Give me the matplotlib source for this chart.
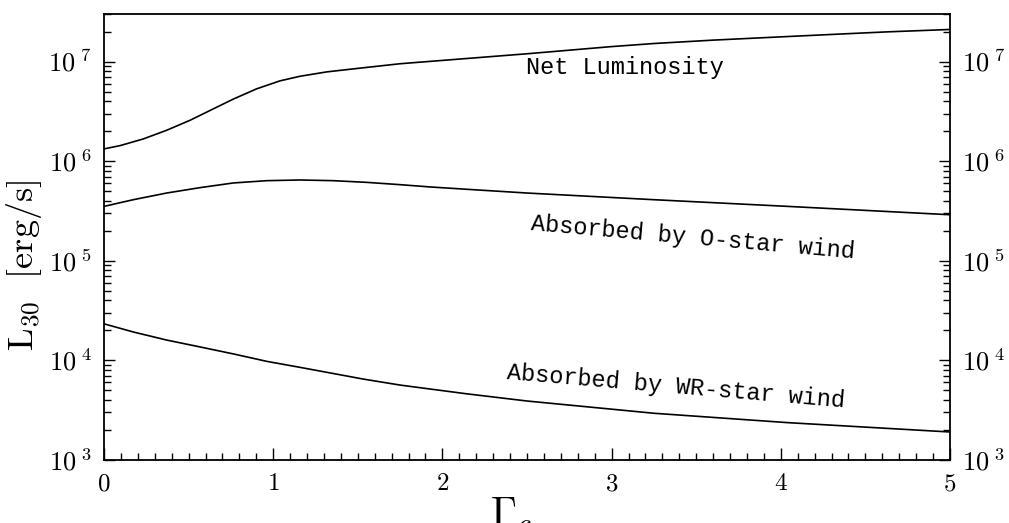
import numpy as np
import matplotlib.pyplot as plt
from matplotlib.ticker import LogLocator, FixedLocator, MultipleLocator, FuncFormatter, NullFormatter

# values (log10 of L30)
gamma_net = [0.0, 0.095, 0.232, 0.37, 0.508, 0.646, 0.764, 0.902, 1.04, 1.158, 1.316, 1.493,
             1.75, 2.14, 2.5, 3.0, 3.25, 3.6, 4.04, 4.4, 4.63, 5.0]
log_net = [6.123, 6.156, 6.223, 6.310, 6.410, 6.525, 6.623, 6.726, 6.806, 6.852, 6.896, 6.930,
           6.978, 7.030, 7.078, 7.150, 7.181, 7.215, 7.251, 7.280, 7.298, 7.322]

gamma_o = [0.0, 0.173, 0.37, 0.567, 0.764, 0.962, 1.158, 1.355, 1.553, 1.749, 1.927,
           2.14, 2.5, 3.25, 4.04, 5.0]
log_o = [5.546, 5.613, 5.680, 5.734, 5.781, 5.804, 5.811, 5.804, 5.787, 5.764, 5.741,
         5.718, 5.68, 5.613, 5.546, 5.462]

gamma_wr = [0.0, 0.173, 0.37, 0.567, 0.764, 0.962, 1.158, 1.355, 1.533, 1.75, 2.14, 2.5,
            3.25, 4.04, 5.0]
log_wr = [4.367, 4.285, 4.204, 4.135, 4.065, 3.990, 3.930, 3.868, 3.812, 3.752, 3.665, 3.592,
          3.469, 3.375, 3.281]

labels = ['Net Luminosity', 'Absorbed by O-star wind', 'Absorbed by WR-star wind']

plt.rcParams['mathtext.fontset'] = 'cm'


def exp_label(v, pos):
    e = int(round(np.log10(v)))
    return r'$10^{\;\mathbf{%d}}$' % e


def main():
    fig = plt.figure(figsize=(10.09, 5.23), dpi=100)
    ax = fig.add_axes([0.1031, 0.1205, 0.8384, 0.8527])

    ax.plot(gamma_net, 10 ** np.array(log_net), color='black', lw=1.2)
    ax.plot(gamma_o, 10 ** np.array(log_o), color='black', lw=1.2)
    ax.plot(gamma_wr, 10 ** np.array(log_wr), color='black', lw=1.2)

    ax.set_yscale('log')
    ax.set_xlim(0, 5)
    ax.set_ylim(1e3, 3e7)

    ax.xaxis.set_major_locator(MultipleLocator(1))
    ax.xaxis.set_minor_locator(MultipleLocator(0.1))
    ax.xaxis.set_major_formatter(FuncFormatter(lambda v, p: r'$%d$' % round(v)))
    ax.yaxis.set_major_locator(FixedLocator([1e3, 1e4, 1e5, 1e6, 1e7]))
    ax.yaxis.set_minor_locator(LogLocator(base=10, subs=np.arange(2, 10)))
    ax.yaxis.set_major_formatter(FuncFormatter(exp_label))
    ax.yaxis.set_minor_formatter(NullFormatter())

    ax.tick_params(axis='both', which='both', direction='in', width=1.0)
    ax.tick_params(axis='x', which='major', length=8.5, labelsize=18, pad=8, top=False)
    ax.tick_params(axis='x', which='minor', length=5, top=False)
    ax.tick_params(axis='y', which='major', length=8, labelsize=19, pad=9,
                   left=True, right=True, labelleft=True, labelright=True)
    ax.tick_params(axis='y', which='minor', length=5, left=True, right=True)
    for s in ax.spines.values():
        s.set_linewidth(1.3)

    txt = dict(family='Liberation Mono', fontsize=17, ha='center', va='center',
               rotation_mode='anchor')
    ax.text(3.08, 8.7e6, labels[0], **txt)
    ax.text(3.48, 1.72e5, labels[1], rotation=-5, **txt)
    ax.text(3.38, 5.42e3, labels[2], rotation=-4.8, **txt)

    fig.text(0.024, 0.492, r'$\mathrm{L}_{30}\ \ [\mathrm{erg/s}]$', rotation=90,
             fontsize=26, ha='center', va='center')
    fig.text(0.507, 0.055, r'$\Gamma_c$', fontsize=30, ha='center', va='top')

    fig.savefig('out.png', dpi=100)


if __name__ == '__main__':
    main()
